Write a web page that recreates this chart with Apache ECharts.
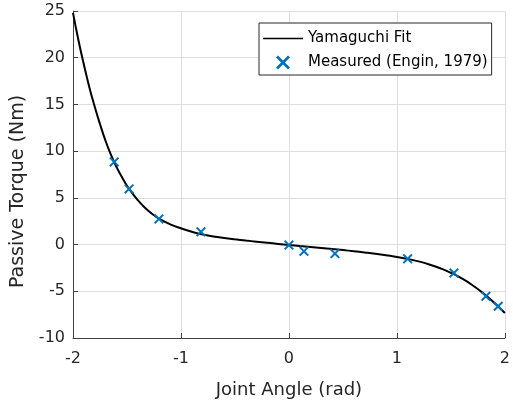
<!DOCTYPE html>
<html>
<head>
<meta charset="utf-8">
<script src="https://cdn.jsdelivr.net/npm/echarts@6/dist/echarts.min.js"></script>
<style>html,body{margin:0;padding:0;background:#fff;}#c{width:513px;height:404px;}</style>
</head>
<body>
<div id="c"></div>
<script>
// Yamaguchi fit curve
const fitAngle = [-2.0,-1.95,-1.9,-1.85,-1.8,-1.75,-1.7,-1.65,-1.6,-1.55,-1.5,-1.45,-1.4,-1.35,-1.3,-1.25,-1.2,-1.1,-1.0,-0.9,-0.8,-0.7,-0.6,-0.5,-0.4,-0.3,-0.2,-0.1,0.0,0.1,0.2,0.3,0.4,0.5,0.6,0.7,0.8,0.9,1.0,1.1,1.2,1.3,1.4,1.5,1.6,1.7,1.8,1.9,2.0];
const fitTorque = [24.8,21.9,19.3,16.9,14.8,12.9,11.15,9.65,8.37,7.28,6.3,5.47,4.75,4.13,3.6,3.14,2.74,2.17,1.74,1.37,1.07,0.86,0.7,0.56,0.43,0.31,0.19,0.07,-0.05,-0.16,-0.26,-0.37,-0.48,-0.59,-0.71,-0.84,-0.98,-1.14,-1.32,-1.53,-1.8,-2.13,-2.53,-3.02,-3.62,-4.35,-5.22,-6.22,-7.32];
// Measured (Engin, 1979)
const measAngle = [-1.618,-1.481,-1.204,-0.815,0.0,0.139,0.426,1.099,1.528,1.824,1.938];
const measTorque = [8.85,5.96,2.75,1.36,-0.05,-0.72,-0.96,-1.53,-3.03,-5.54,-6.6];
const seriesNames = ['Yamaguchi Fit','Measured (Engin, 1979)'];
const xTitle = 'Joint Angle (rad)';
const yTitle = 'Passive Torque (Nm)';

const FONT = 'DejaVu Sans';
const TXT = '#262626';
const xMark = 'path://M0,1.4L1.4,0L5,3.6L8.6,0L10,1.4L6.4,5L10,8.6L8.6,10L5,6.4L1.4,10L0,8.6L3.6,5Z';
const lineIcon = 'path://M0,0M40,14M0,6.2H40V7.8H0Z';

const chart = echarts.init(document.getElementById('c'), null, {renderer:'canvas'});
chart.setOption({
  animation:false,
  backgroundColor:'#fff',
  grid:{left:73,right:8,top:11,bottom:66,containLabel:false},
  xAxis:{
    type:'value',min:-2,max:2,interval:1,
    name:xTitle,nameLocation:'middle',nameGap:43,
    nameTextStyle:{fontFamily:FONT,fontSize:18,color:TXT},
    axisLine:{show:true,onZero:false,lineStyle:{color:'#404040',width:1}},
    axisTick:{show:true,inside:true,length:5,lineStyle:{color:'#404040'}},
    axisLabel:{fontFamily:FONT,fontSize:16,color:TXT,margin:13},
    splitLine:{show:true,lineStyle:{color:'#dedede',width:1}}
  },
  yAxis:{
    type:'value',min:-10,max:25,interval:5,
    name:yTitle,nameLocation:'middle',nameGap:40,
    nameTextStyle:{fontFamily:FONT,fontSize:19,color:TXT,padding:[0,34,0,0]},
    axisLine:{show:true,onZero:false,lineStyle:{color:'#404040',width:1}},
    axisTick:{show:true,inside:true,length:5,lineStyle:{color:'#404040'}},
    axisLabel:{fontFamily:FONT,fontSize:16,color:TXT,margin:8},
    splitLine:{show:true,lineStyle:{color:'#dedede',width:1}}
  },
  legend:{
    left:259,top:23,orient:'vertical',
    backgroundColor:'#fff',borderColor:'#262626',borderWidth:1,
    padding:[8,4,5,4],itemGap:9,itemWidth:40,itemHeight:14,
    textStyle:{fontFamily:FONT,fontSize:15,color:'#000'},
    data:[{name:seriesNames[0],icon:lineIcon,itemStyle:{color:'#000'}},{name:seriesNames[1],icon:xMark,itemStyle:{color:'#0072BD'}}]
  },
  series:[
    {name:seriesNames[0],type:'line',data:fitAngle.map((a,i)=>[a,fitTorque[i]]),
     showSymbol:false,symbol:'none',smooth:0.5,lineStyle:{color:'#000',width:2},itemStyle:{color:'#000'},z:2},
    {name:seriesNames[1],type:'scatter',data:measAngle.map((a,i)=>[a,measTorque[i]]),
     symbol:xMark,symbolSize:10,itemStyle:{color:'#0072BD',opacity:1},z:3}
  ]
});
</script>
</body>
</html>
